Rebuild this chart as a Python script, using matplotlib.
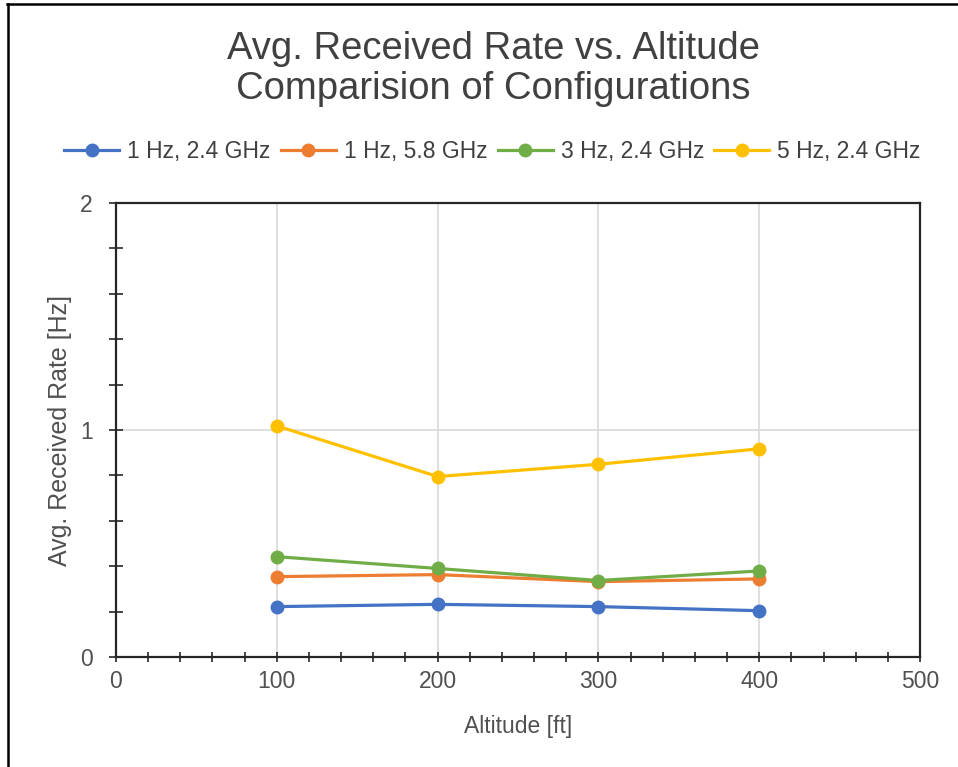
import numpy as np
import matplotlib.pyplot as plt
from matplotlib.lines import Line2D
from matplotlib.ticker import MultipleLocator

plt.rcParams['font.family'] = ['Liberation Sans', 'DejaVu Sans']

# data
altitude = [100, 200, 300, 400]
labels = ["1 Hz, 2.4 GHz", "1 Hz, 5.8 GHz", "3 Hz, 2.4 GHz", "5 Hz, 2.4 GHz"]
rate_1hz_24 = [0.222, 0.232, 0.222, 0.204]
rate_1hz_58 = [0.354, 0.363, 0.332, 0.344]
rate_3hz_24 = [0.442, 0.390, 0.337, 0.379]
rate_5hz_24 = [1.018, 0.795, 0.849, 0.917]
colors = ["#4472C4", "#ED7D31", "#70AD47", "#FFC000"]

textCol = "#505050"
axCol = "#262626"

fig = plt.figure(figsize=(9.58, 7.67), dpi=100)
ax = fig.add_axes([116 / 958, 110 / 767, 804 / 958, 454 / 767])

series = [rate_1hz_24, rate_1hz_58, rate_3hz_24, rate_5hz_24]
for vals, lab, col in zip(series, labels, colors):
    ax.plot(altitude, vals, color=col, lw=2.3, marker="o", ms=9,
            label=lab, zorder=3)

ax.set_xlim(0, 500)
ax.set_ylim(0, 2)
ax.xaxis.set_major_locator(MultipleLocator(100))
ax.xaxis.set_minor_locator(MultipleLocator(20))
ax.yaxis.set_major_locator(MultipleLocator(1))
ax.yaxis.set_minor_locator(MultipleLocator(0.2))
ax.grid(True, which="major", color="#d9d9d9", lw=1.2, zorder=0)
ax.set_axisbelow(True)

for sp in ax.spines.values():
    sp.set_color(axCol)
    sp.set_linewidth(1.6)

ax.tick_params(axis="x", which="both", direction="inout", length=7,
               width=1.2, color=axCol, labelsize=16.5, labelcolor=textCol, pad=6)
ax.tick_params(axis="y", which="both", direction="inout", length=9.5,
               width=1.2, color=axCol, labelsize=16.5, labelcolor=textCol, pad=12)

ax.set_xlabel("Altitude [ft]", fontsize=16.5, color=textCol, labelpad=16)
ax.set_ylabel("Avg. Received Rate [Hz]", fontsize=18, color=textCol,
              labelpad=6)

fig.text(0.515, 0.910, "Avg. Received Rate vs. Altitude\nComparision of Configurations",
         ha="center", va="center", fontsize=27.5, color="#404040",
         linespacing=1.15)

fig.legend(loc="center", bbox_to_anchor=(0.514, 0.802), ncol=4,
           frameon=False, fontsize=16.5, handlelength=2.4,
           handletextpad=0.35, columnspacing=0.45, labelcolor="#404040")

# outer frame (top and left edges visible in the reference)
fig.add_artist(Line2D([7.5 / 958, 7.5 / 958], [0, 763 / 767],
                      transform=fig.transFigure, color="black", lw=1.8))
fig.add_artist(Line2D([7 / 958, 1], [763 / 767, 763 / 767],
                      transform=fig.transFigure, color="black", lw=1.8))

fig.savefig("out.png", dpi=100)
